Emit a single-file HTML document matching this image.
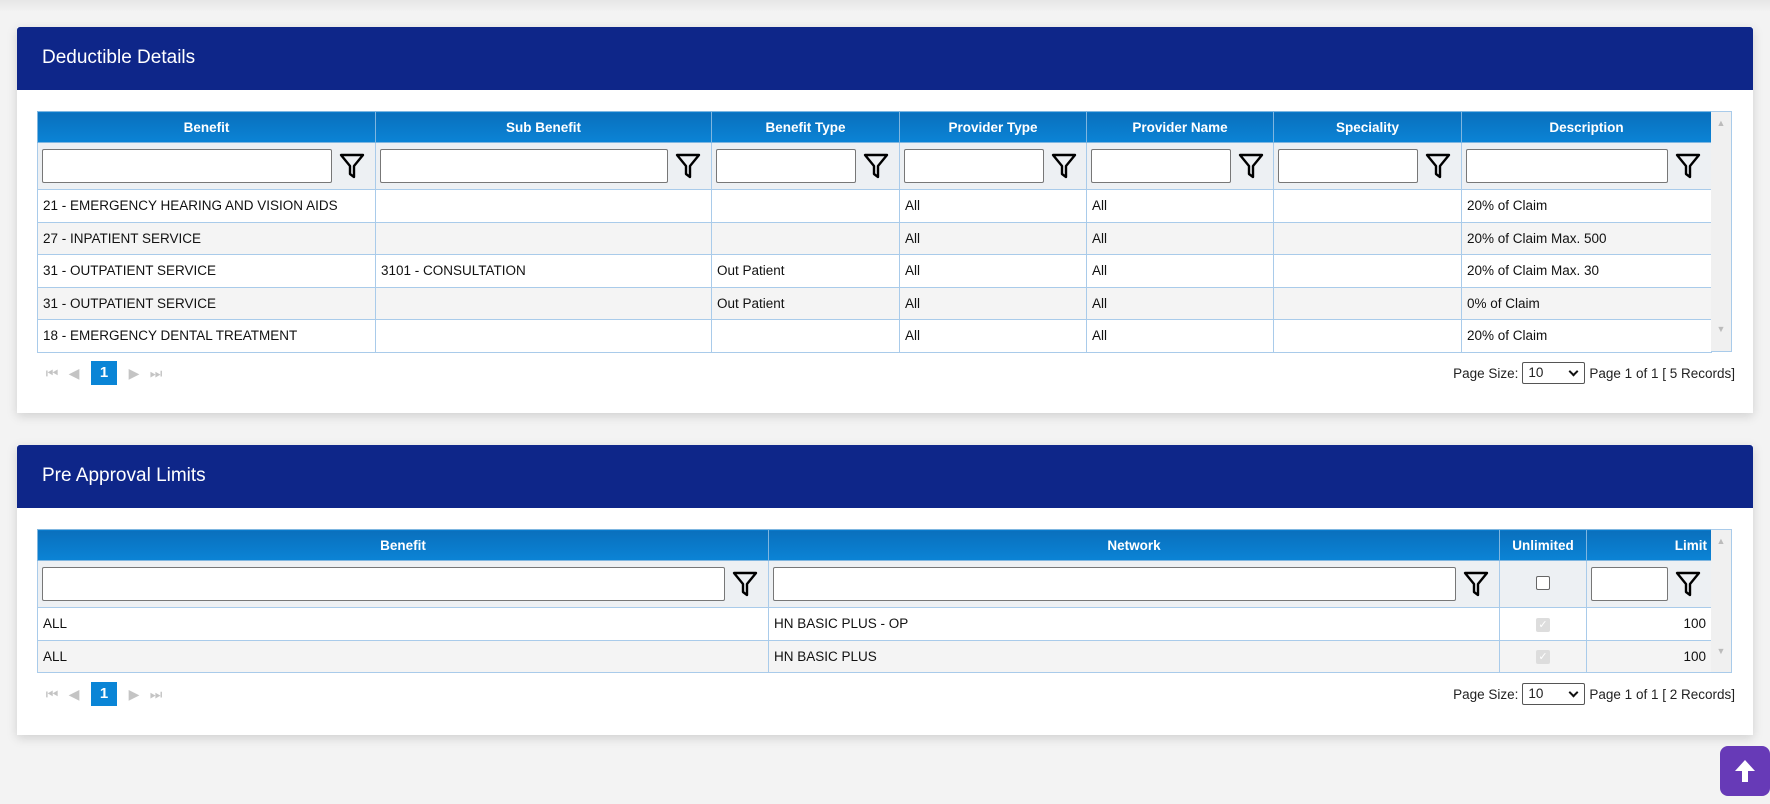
<!DOCTYPE html>
<html><head><meta charset="utf-8"><style>
*{box-sizing:border-box;margin:0;padding:0}
body{width:1770px;height:804px;background:#f3f3f3;font-family:"Liberation Sans",sans-serif;position:relative;overflow:hidden}
.topshadow{position:absolute;left:0;top:0;width:1770px;height:12px;background:linear-gradient(#e6e6e6,#f3f3f3)}
.card{position:absolute;left:17px;width:1736px;background:#fff;box-shadow:0 3px 10px rgba(0,0,0,.15)}
.hd{background:#0e2689;color:#fff;font-size:19px;padding-left:25px;border-radius:3px 3px 0 0}
table{position:absolute;left:20px;border-collapse:collapse;table-layout:fixed;font-size:13.5px;color:#111}
th{background:linear-gradient(#0a70bd,#0b84d6);color:#fff;font-size:13.5px;font-weight:bold;height:31px;border:1px solid #7fb6e0;text-align:center}
td{border:1px solid #a9cbea;padding:0 5px;height:32.5px;white-space:nowrap;overflow:hidden}
tr.f td{background:#edf0f3;height:47px;padding:0 4px}
tr.alt td{background:#f4f4f4}
.inp{display:inline-block;vertical-align:middle;height:34px;border:1px solid #777;border-radius:2px;background:#fff}
.fl{display:inline-block;vertical-align:middle;margin-left:6px}
.sb{position:absolute;width:21px;background:#f0f0f0;border:1px solid #a9cbea;border-left:none}
.pg{position:absolute;left:24px;font-size:14px;color:#c4c4c4;display:flex;align-items:center}
.pg span{display:inline-block;width:22px;text-align:center}
.pg b{display:inline-block;background:#0a85d6;color:#fff;width:26px;height:24px;text-align:center;line-height:24px;font-size:15px;margin:0 6px}
.ps{position:absolute;right:18px;font-size:13.5px;color:#222;display:flex;align-items:center}
.sel{display:inline-block;width:63px;height:22px;border:1px solid #555;border-radius:2px;margin:0 4px;padding-left:5px;line-height:20px;position:relative}
.sel:after{content:"";position:absolute;right:7px;top:5px;width:5px;height:5px;border-right:2px solid #111;border-bottom:2px solid #111;transform:rotate(45deg)}
.cb{display:inline-block;width:14px;height:14px;border:1px solid #666;border-radius:2px;background:#fff}
.cbd{display:inline-block;width:14px;height:14px;border-radius:2px;background:#ddd;color:#fff;font-size:11px;line-height:14px;text-align:center}
.up{position:absolute;left:1720px;top:746px;width:50px;height:50px;background:#673ab7;border-radius:8px}
</style></head><body>
<div class="topshadow"></div>
<svg width="0" height="0" style="position:absolute"><defs><symbol id="fn" viewBox="0 0 26 28"><path d="M2 3H24L15 14V25L11 22V14Z" fill="none" stroke="#000" stroke-width="2.4" stroke-linejoin="round"/></symbol></defs></svg>

<div class="card" style="top:27px;height:386px">
<div class="hd" style="height:63px;line-height:62px">Deductible Details</div>
<table style="top:84px;width:1674px">
<colgroup><col style="width:338px"><col style="width:336px"><col style="width:188px"><col style="width:187px"><col style="width:187px"><col style="width:188px"><col style="width:250px"></colgroup>
<tr><th>Benefit</th><th>Sub Benefit</th><th>Benefit Type</th><th>Provider Type</th><th>Provider Name</th><th>Speciality</th><th>Description</th></tr>
<tr class="f"><td><span class="inp" style="width:290px"></span><svg class="fl" width="28" height="28"><use href="#fn"/></svg></td><td><span class="inp" style="width:288px"></span><svg class="fl" width="28" height="28"><use href="#fn"/></svg></td><td><span class="inp" style="width:140px"></span><svg class="fl" width="28" height="28"><use href="#fn"/></svg></td><td><span class="inp" style="width:140px"></span><svg class="fl" width="28" height="28"><use href="#fn"/></svg></td><td><span class="inp" style="width:140px"></span><svg class="fl" width="28" height="28"><use href="#fn"/></svg></td><td><span class="inp" style="width:140px"></span><svg class="fl" width="28" height="28"><use href="#fn"/></svg></td><td><span class="inp" style="width:202px"></span><svg class="fl" width="28" height="28"><use href="#fn"/></svg></td></tr>
<tr><td>21 - EMERGENCY HEARING AND VISION AIDS</td><td></td><td></td><td>All</td><td>All</td><td></td><td>20% of Claim</td></tr>
<tr class="alt"><td>27 - INPATIENT SERVICE</td><td></td><td></td><td>All</td><td>All</td><td></td><td>20% of Claim Max. 500</td></tr>
<tr><td>31 - OUTPATIENT SERVICE</td><td>3101 - CONSULTATION</td><td>Out Patient</td><td>All</td><td>All</td><td></td><td>20% of Claim Max. 30</td></tr>
<tr class="alt"><td>31 - OUTPATIENT SERVICE</td><td></td><td>Out Patient</td><td>All</td><td>All</td><td></td><td>0% of Claim</td></tr>
<tr><td>18 - EMERGENCY DENTAL TREATMENT</td><td></td><td></td><td>All</td><td>All</td><td></td><td>20% of Claim</td></tr>
</table>
<div class="sb" style="left:1694px;top:84px;height:241px"><div style="font-size:9px;color:#bbb;text-align:center;margin-top:6px">▲</div><div style="font-size:9px;color:#bbb;text-align:center;margin-top:196px">▼</div></div>
<div class="pg" style="top:334px"><span>⏮</span><span>◀</span><b>1</b><span>▶</span><span>⏭</span></div>
<div class="ps" style="top:335px">Page Size:<span class="sel">10</span>Page 1 of 1 [ 5 Records]</div>
</div>

<div class="card" style="top:445px;height:290px">
<div class="hd" style="height:63px;line-height:62px">Pre Approval Limits</div>
<table style="top:84px;width:1674px">
<colgroup><col style="width:731px"><col style="width:731px"><col style="width:87px"><col style="width:125px"></colgroup>
<tr><th>Benefit</th><th>Network</th><th>Unlimited</th><th style="text-align:right;padding-right:4px">Limit</th></tr>
<tr class="f"><td><span class="inp" style="width:683px"></span><svg class="fl" width="28" height="28"><use href="#fn"/></svg></td><td><span class="inp" style="width:683px"></span><svg class="fl" width="28" height="28"><use href="#fn"/></svg></td><td style="text-align:center"><span class="cb"></span></td><td><span class="inp" style="width:77px"></span><svg class="fl" width="28" height="28"><use href="#fn"/></svg></td></tr>
<tr><td>ALL</td><td>HN BASIC PLUS - OP</td><td style="text-align:center"><span class="cbd">✓</span></td><td style="text-align:right">100</td></tr>
<tr class="alt"><td>ALL</td><td>HN BASIC PLUS</td><td style="text-align:center"><span class="cbd">✓</span></td><td style="text-align:right">100</td></tr>
</table>
<div class="sb" style="left:1694px;top:84px;height:144px"><div style="font-size:9px;color:#bbb;text-align:center;margin-top:6px">▲</div><div style="font-size:9px;color:#bbb;text-align:center;margin-top:100px">▼</div></div>
<div class="pg" style="top:237px"><span>⏮</span><span>◀</span><b>1</b><span>▶</span><span>⏭</span></div>
<div class="ps" style="top:238px">Page Size:<span class="sel">10</span>Page 1 of 1 [ 2 Records]</div>
</div>

<div class="up"><svg width="50" height="50" viewBox="0 0 50 50"><path d="M25 14L15 25H22V36H28V25H35Z" fill="#fff"/></svg></div>
</body></html>
